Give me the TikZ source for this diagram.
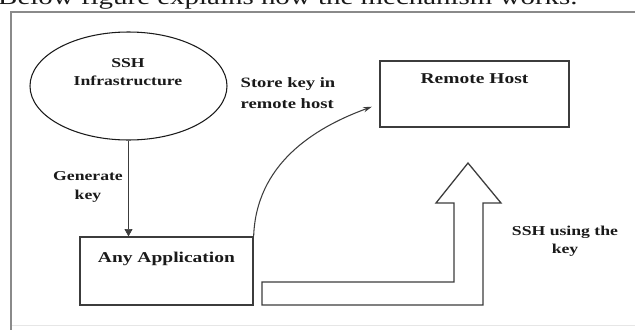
\documentclass[tikz,border=0pt]{standalone}
\usepackage{fontspec}
\setmainfont{Liberation Serif}[FakeStretch=1.3]
\usetikzlibrary{arrows.meta}
\usetikzlibrary{positioning}
\usetikzlibrary{shapes.geometric}
\definecolor{sshframe}{HTML}{8A8A8A}
\definecolor{sshfaint}{HTML}{E6E6E6}
\definecolor{sshline}{HTML}{3C3C3C}
\definecolor{sshink}{HTML}{1A1A1A}
\tikzset{
  sshbox/.style={
    draw=sshline, line width=1.1pt, inner sep=0pt,
    minimum width=5.19cm, minimum height=2.04cm},
  sshoval/.style={
    ellipse, draw=sshink, line width=0.9pt, inner sep=0pt,
    minimum width=5.91cm, minimum height=3.24cm},
  sshtext/.style={
    align=center, text=sshink, inner sep=0pt,
    font=\bfseries\fontsize{11.6}{15.5}\selectfont},
  sshname/.style={
    text=sshink, inner sep=0pt,
    font=\bfseries\fontsize{12.8}{16}\selectfont},
  ssharrow/.style={draw=sshline, line width=0.6pt},
  sshbig/.style={draw=sshline, line width=1.1pt, line join=miter},
}

\begin{document}
\begin{tikzpicture}[x=0.03cm, y=-0.03cm]

\useasboundingbox (0, 0) rectangle (635, 329);
\clip (0, 0) rectangle (635, 329);
\fill[white] (0, 0) rectangle (635, 329);

% Caption line above the figure, cut by the page edge.
\node[anchor=base west, inner sep=0pt, text=sshink,
      font=\fontsize{19}{22}\selectfont] (caption) at (-2, 4.5)
  {Below figure explains how the mechanism works.};

% Frame.
\draw[sshfaint, line width=0.8pt] (11, 325) -- (640, 325);
\draw[sshframe, line width=2.2pt] (11, 340) -- (11, 12) -- (640, 12);

% SSH infrastructure.
\node[sshoval] (ssh) at (128.5, 86) {};
\node[sshtext] (sshlbl) at (128, 72) {SSH\\Infrastructure};

% Application and remote host.
\node[sshbox] (app) at (166.5, 271) {};
\node[sshname, below=13pt of app.north] (applbl) {Any Application};
\node[sshbox, minimum width=5.67cm, minimum height=1.98cm]
  (remote) at (474.5, 94) {};
\node[sshname, below=11pt of remote.north] (remotelbl) {Remote Host};

% Key generation.
\draw[ssharrow, -{Triangle[length=2.2mm, width=2.4mm]}]
  (ssh.south) -- (ssh.south |- app.north);
\node[sshtext] (genlbl) at (88, 187) {Generate\\key};

% Key stored on the remote host.
\draw[ssharrow, line width=0.9pt, shorten >=2.4mm,
      -{Stealth[length=2.6mm, width=1.6mm]}]
  (app.north east) to[out=88, in=200] ([yshift=-3mm]remote.west);
\node[sshtext, align=left, font=\bfseries\fontsize{12.2}{18}\selectfont]
  (storelbl) at (288, 93) {Store key in\\remote host};

% SSH session, drawn as a hollow arrow.
\draw[sshbig] (262, 282) -- (454, 282) -- (454, 203) -- (436, 203)
  -- (468, 163) -- (501, 203) -- (483, 203) -- (483, 305)
  -- (262, 305) -- cycle;
\node[sshtext] (usinglbl) at (565, 241) {SSH using the\\key};

\end{tikzpicture}
\end{document}
